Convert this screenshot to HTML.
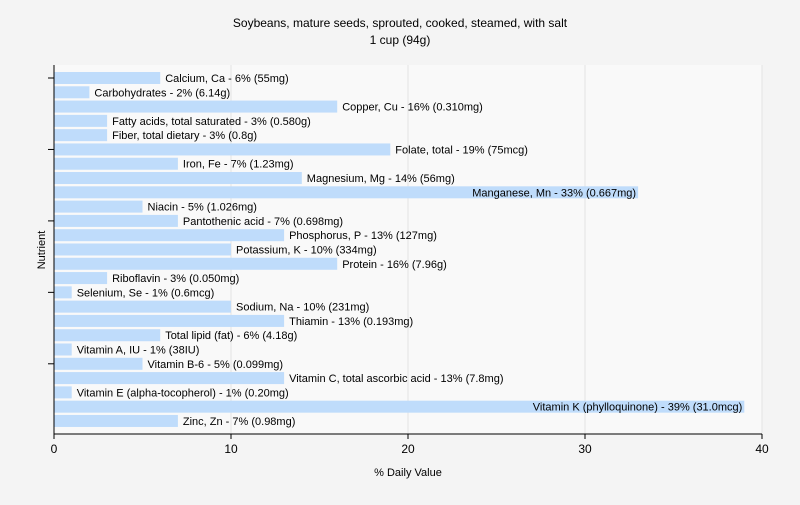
<!DOCTYPE html>
<html><head><meta charset="utf-8"><style>
body{margin:0;background:#f4f4f4;font-family:"Liberation Sans",sans-serif}
</style></head><body>
<svg width="800" height="500" xmlns="http://www.w3.org/2000/svg" font-family="Liberation Sans, sans-serif">
<text x="400" y="27" font-size="12" text-anchor="middle">Soybeans, mature seeds, sprouted, cooked, steamed, with salt</text>
<text x="400" y="44" font-size="12" text-anchor="middle">1 cup (94g)</text>
<rect x="54" y="65" width="708" height="369" fill="#f9f9f9"/>
<g id="grid"></g><g id="bars"></g><g id="axes"></g>
<text x="408" y="476" font-size="11" text-anchor="middle">% Daily Value</text>
<text x="45" y="250" font-size="11" text-anchor="middle" transform="rotate(-90 45 250)">Nutrient</text>
</svg>
<script>
const categories=["Calcium, Ca - 6% (55mg)","Carbohydrates - 2% (6.14g)","Copper, Cu - 16% (0.310mg)","Fatty acids, total saturated - 3% (0.580g)","Fiber, total dietary - 3% (0.8g)","Folate, total - 19% (75mcg)","Iron, Fe - 7% (1.23mg)","Magnesium, Mg - 14% (56mg)","Manganese, Mn - 33% (0.667mg)","Niacin - 5% (1.026mg)","Pantothenic acid - 7% (0.698mg)","Phosphorus, P - 13% (127mg)","Potassium, K - 10% (334mg)","Protein - 16% (7.96g)","Riboflavin - 3% (0.050mg)","Selenium, Se - 1% (0.6mcg)","Sodium, Na - 10% (231mg)","Thiamin - 13% (0.193mg)","Total lipid (fat) - 6% (4.18g)","Vitamin A, IU - 1% (38IU)","Vitamin B-6 - 5% (0.099mg)","Vitamin C, total ascorbic acid - 13% (7.8mg)","Vitamin E (alpha-tocopherol) - 1% (0.20mg)","Vitamin K (phylloquinone) - 39% (31.0mcg)","Zinc, Zn - 7% (0.98mg)"];
const values=[6,2,16,3,3,19,7,14,33,5,7,13,10,16,3,1,10,13,6,1,5,13,1,39,7];
const xTicks=[0,10,20,30,40];
const NS="http://www.w3.org/2000/svg";
const x=v=>54+v*17.7, y=i=>78+i*14.29;
function mk(t,a,p){const e=document.createElementNS(NS,t);for(const k in a)e.setAttribute(k,a[k]);document.getElementById(p).appendChild(e);return e;}
xTicks.forEach(t=>{
 if(t>0){const g=mk('line',{x1:x(t),x2:x(t),y1:65,y2:434,stroke:'#e4e4e4'},'grid');
 
 }
 const tk=mk('line',{x1:x(t),x2:x(t),y1:434,y2:439,stroke:'#000'},'axes');
 
 
 const tl=mk('text',{x:x(t),y:453,'font-size':12,'text-anchor':'middle'},'axes');tl.textContent=t;
 
 
});
values.forEach((v,i)=>{
 const r=mk('rect',{x:54,y:y(i)-6,width:x(v)-54,height:12,fill:'#bfdcfb'},'bars');
 
 
 const inside=x(v)+5+categories[i].length*5.6>790;
 const t=mk('text',{x:inside?x(v)-2:x(v)+5,y:y(i)+4,'font-size':11,'text-anchor':inside?'end':'start'},'bars');
 t.textContent=categories[i];
 
 
 if(i%5==0){const k=mk('line',{x1:48,x2:54,y1:y(i),y2:y(i),stroke:'#000'},'axes');
 
 }
});
const ax=mk('path',{d:'M54 65V434H762',fill:'none',stroke:'#000'},'axes');


</script>
</body></html>
